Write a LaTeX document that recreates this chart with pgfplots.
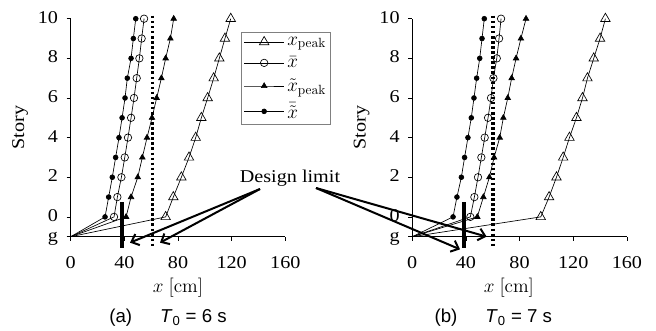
\documentclass[border=0pt]{standalone}
\usepackage[no-math]{fontspec}
\setmainfont[FakeStretch=1.12]{Liberation Serif}
\setsansfont{Liberation Sans}
\usepackage{pgfplots}
\usepackage{pgfplotstable}
\pgfplotsset{compat=1.18}
\usetikzlibrary{arrows.meta}

\pgfplotstableread{
y xp xb xtp xtb
-1 0 0 0 0
0 70.8 32.3 41.3 25.6
1 76.5 34.8 45.0 28.3
2 82.5 37.8 50.0 31.0
3 88.2 40.3 53.4 33.5
4 93.2 42.7 56.9 36.0
5 97.4 45.0 60.6 38.3
6 102.1 47.2 64.1 40.5
7 106.6 49.2 67.6 42.2
8 110.8 51.2 70.8 45.0
9 115.0 52.9 74.3 46.7
10 119.3 54.7 76.8 48.5
}\tabA

\pgfplotstableread{
y xp xb xtp xtb
-1 0 0 0 0
0 95.8 43.3 48.5 30.4
1 102.0 46.3 53.0 33.3
2 107.5 49.0 57.5 36.6
3 112.5 51.5 61.0 39.0
4 117.2 54.0 65.2 41.5
5 122.4 56.5 67.9 44.0
6 126.9 58.7 71.2 46.0
7 130.6 60.5 74.1 48.0
8 135.3 63.0 77.4 50.3
9 140.0 64.7 81.0 52.0
10 144.0 66.2 84.8 53.7
}\tabB

\newcommand{\bigf}{\fontsize{13.5}{16}\selectfont}

\pgfplotsset{
  storyaxis/.style={
    scale only axis, width=160.95pt, height=163.5pt,
    xmin=0, xmax=160, ymin=-1, ymax=10,
    axis x line=bottom, axis y line=left,
    axis line style={-, line width=0.5pt},
    xtick={0,40,80,120,160},
    ytick={-1,0,2,4,6,8,10}, yticklabels={g,0,2,4,6,8,10},
    tick align=outside, tick style={black, line width=0.5pt}, major tick length=3pt,
    clip=false, anchor=south west,
    /pgf/number format/assume math mode=true,
    tick label style={font=\bigf},
    xticklabel style={anchor=base, inner sep=0pt, yshift=-20.5pt},
    yticklabel style={anchor=base east, inner sep=0pt, xshift=-6.3pt, yshift=-0.338em},
    label style={font=\bigf},
    xlabel={$x\ [\mathrm{cm}]$}, ylabel={Story},
    xlabel style={at={(axis description cs:0.5,0)}, anchor=center, yshift=-38.5pt},
    ylabel style={at={(axis description cs:0,0.5)}, anchor=center, yshift=38pt},
    every axis plot/.append style={black, line width=0.5pt},
    legend image code/.code={\draw[mark indices={2}] plot coordinates {(0cm,0cm) (0.53cm,0cm) (1.06cm,0cm)};},
  },
  pxp/.style={mark=triangle, mark size=4.1pt, mark options={fill=white, line width=0.5pt}, mark indices={2,3,4,5,6,7,8,9,10,11,12}},
  pxb/.style={mark=o, mark size=2.8pt, mark options={fill=white, line width=0.5pt}, mark indices={2,3,4,5,6,7,8,9,10,11,12}},
  pxtp/.style={mark=triangle*, mark size=2.4pt, mark options={fill=black}, mark indices={2,3,4,5,6,7,8,9,10,11,12}},
  pxtb/.style={mark=*, mark size=1.8pt, mark options={fill=black}, mark indices={2,3,4,5,6,7,8,9,10,11,12}},
}

\begin{document}
\begin{tikzpicture}
\useasboundingbox (0pt,0pt) rectangle (492pt,-248.25pt);
\begin{axis}[storyaxis, at={(53.03pt,-177.53pt)},
  legend style={at={(0.795,0.94)}, anchor=north west, draw=gray, line width=0.6pt, fill=white,
    font=\fontsize{14}{16}\selectfont, row sep=3pt, inner sep=1.5pt, cells={anchor=west}}]
\addplot[pxp] table[x=xp, y=y] {\tabA};
\addlegendentry{$x_{\mathrm{peak}}$}
\addplot[pxb] table[x=xb, y=y] {\tabA};
\addlegendentry{$\bar{x}$}
\addplot[pxtp] table[x=xtp, y=y] {\tabA};
\addlegendentry{$\tilde{x}_{\mathrm{peak}}$}
\addplot[pxtb] table[x=xtb, y=y] {\tabA};
\addlegendentry{$\bar{\tilde{x}}$}
\addplot[forget plot, line width=2.4pt, dash pattern=on 1.9pt off 1.9pt] coordinates {(61,10.15) (61,-1.57)};
\addplot[forget plot, line width=3.2pt] coordinates {(38.5,0.74) (38.5,-1.57)};
\end{axis}
\begin{axis}[storyaxis, at={(309.2pt,-177.53pt)},
  xlabel style={xshift=-8pt}]
\addplot[pxp] table[x=xp, y=y] {\tabB};
\addplot[pxb] table[x=xb, y=y] {\tabB};
\addplot[pxtp] table[x=xtp, y=y] {\tabB};
\addplot[pxtb] table[x=xtb, y=y] {\tabB};
\addplot[forget plot, line width=2.4pt, dash pattern=on 1.9pt off 1.9pt] coordinates {(60.2,10.15) (60.2,-1.57)};
\addplot[forget plot, line width=3.2pt] coordinates {(38.5,0.74) (38.5,-1.57)};
\end{axis}
\node[font=\bigf] at (217.5pt,-133.5pt) {Design limit};
\begin{scope}[line width=1.5pt, -{Straight Barb[length=5pt,width=9pt]}]
\draw (195pt,-141.75pt) -- (97.5pt,-182pt);
\draw (195pt,-141.75pt) -- (120pt,-182pt);
\draw (237pt,-141pt) -- (345pt,-187pt);
\draw (237pt,-141pt) -- (365pt,-177.5pt);
\end{scope}
\node[font=\sffamily\fontsize{14}{16}\selectfont] at (126pt,-238.5pt) {(a)\hspace{1.5em}\textit{T}\textsubscript{0} = 6 s};
\node[font=\sffamily\fontsize{14}{16}\selectfont] at (370pt,-238.5pt) {(b)\hspace{1.5em}\textit{T}\textsubscript{0} = 7 s};
\end{tikzpicture}
\end{document}
